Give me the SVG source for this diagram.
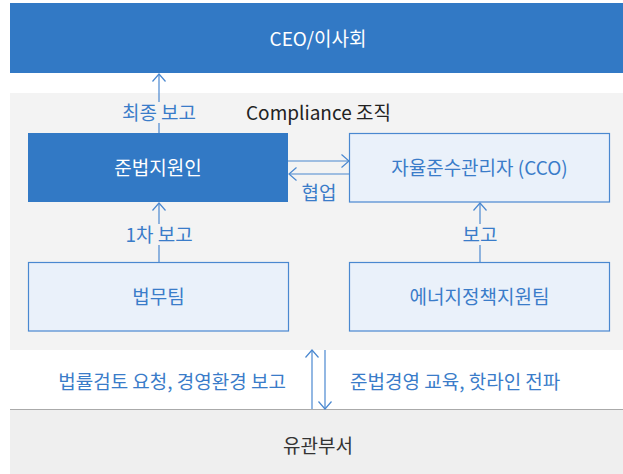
<svg xmlns="http://www.w3.org/2000/svg" width="623" height="474" viewBox="0 0 623 474">
<style>
text{font-family:"Noto Sans CJK KR","Noto Sans",sans-serif;font-size:19px;text-anchor:middle}
.w{fill:#ffffff}
.b{fill:#3a7cc9}
.d{fill:#222222}
.dark{fill:#3279c5}
.light{fill:#eaf1fa;stroke:#4a88d0;stroke-width:1.2}
.ln{stroke:#4a88d0;stroke-width:1.2;fill:none}
</style>
<defs>
<marker id="ah" markerUnits="userSpaceOnUse" viewBox="0 0 10 15" refX="8.5" refY="7" markerWidth="10" markerHeight="15" orient="auto" overflow="visible">
<path d="M1,0.5 L8.5,7 L1,13.5" fill="none" stroke="#4a88d0" stroke-width="1.2"/>
</marker>
</defs>
<g id="compliance-bg">
<rect x="10" y="93" width="613" height="257" fill="#f3f3f3"/>
<text class="d" x="246" y="119.5" style="text-anchor:start">Compliance 조직</text>
</g>
<g id="ceo">
<rect x="10" y="3" width="613" height="70" class="dark"/>
<text class="w" x="318" y="45.5">CEO/이사회</text>
</g>
<g id="jun">
<rect x="28" y="133" width="260" height="69" class="dark"/>
<text class="w" x="158" y="174.5">준법지원인</text>
</g>
<g id="cco">
<rect x="349.5" y="133.5" width="260" height="68.5" class="light"/>
<text class="b" x="479.5" y="174.5">자율준수관리자 (CCO)</text>
</g>
<g id="legal">
<rect x="28.5" y="262.5" width="260" height="68.5" class="light"/>
<text class="b" x="158.5" y="303.5">법무팀</text>
</g>
<g id="energy">
<rect x="349.5" y="262.5" width="260" height="68.5" class="light"/>
<text class="b" x="479.5" y="303.5">에너지정책지원팀</text>
</g>
<g id="dept">
<rect x="10" y="409" width="613" height="65" fill="#efefef"/>
<line x1="10" y1="409.5" x2="623" y2="409.5" stroke="#aaaaaa" stroke-width="1"/>
<text class="d" x="318" y="452.5" style="fill:#333">유관부서</text>
</g>
<g id="connectors">
<line class="ln" x1="159" y1="133" x2="159" y2="123"/>
<line class="ln" x1="159" y1="102" x2="159" y2="74" marker-end="url(#ah)"/>
<text class="b" x="159" y="119.5">최종 보고</text>
<line class="ln" x1="288" y1="161" x2="349" y2="161" marker-end="url(#ah)"/>
<line class="ln" x1="349" y1="174" x2="289" y2="174" marker-end="url(#ah)"/>
<text class="b" x="319" y="199.5">협업</text>
<line class="ln" x1="159" y1="262" x2="159" y2="245"/>
<line class="ln" x1="159" y1="224" x2="159" y2="203" marker-end="url(#ah)"/>
<text class="b" x="159" y="241.5">1차 보고</text>
<line class="ln" x1="480" y1="262" x2="480" y2="245"/>
<line class="ln" x1="480" y1="224" x2="480" y2="203" marker-end="url(#ah)"/>
<text class="b" x="480" y="241.5">보고</text>
<line class="ln" x1="312" y1="409" x2="312" y2="350" marker-end="url(#ah)"/>
<line class="ln" x1="325" y1="350" x2="325" y2="409" marker-end="url(#ah)"/>
<text class="b" x="286" y="388.5" style="text-anchor:end">법률검토 요청, 경영환경 보고</text>
<text class="b" x="350" y="388.5" style="text-anchor:start">준법경영 교육, 핫라인 전파</text>
</g>
</svg>
